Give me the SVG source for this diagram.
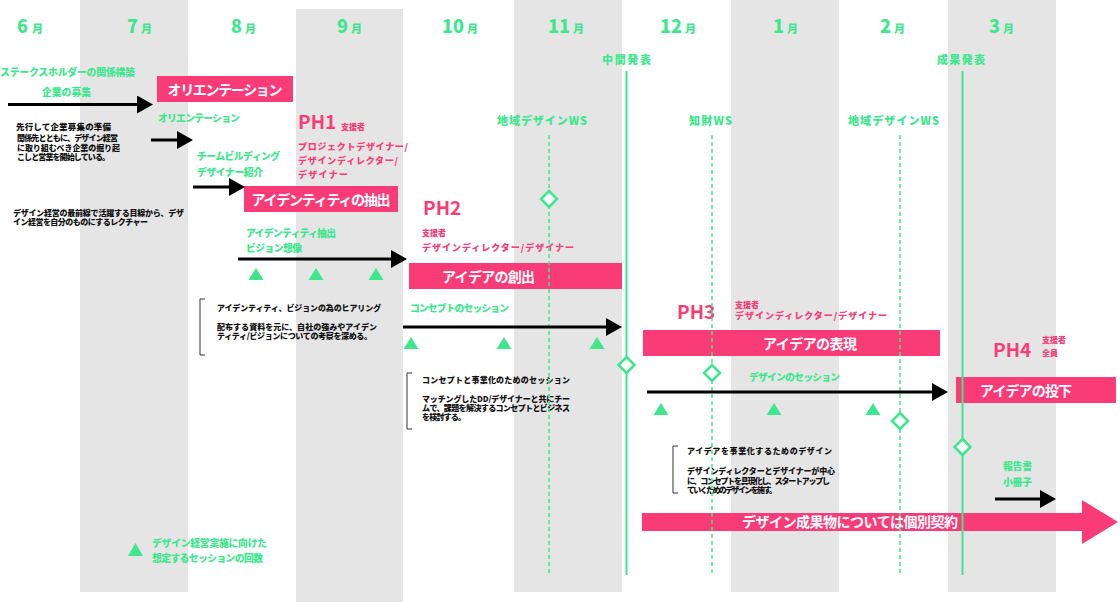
<svg xmlns="http://www.w3.org/2000/svg" width="1120" height="602" viewBox="0 0 1120 602">
<defs>
<style>
text{font-family:"Noto Sans CJK JP","Noto Sans",sans-serif;font-weight:700}
.col{fill:#E5E5E5}
.g{fill:#40E68E;font-size:9.8px;font-weight:900}
.gm{fill:#40E68E;font-size:11px;font-weight:900}
.mn{fill:#40E68E;font-size:18px;font-weight:900}
.mk{fill:#40E68E;font-size:11px;font-weight:900}
.b{fill:#111;font-size:8px;font-weight:900}
.bb{fill:#111;font-size:8.5px;font-weight:900}
.p{fill:#F93C78;font-size:9px;font-weight:900}
.ps{fill:#F93C78;font-size:8px;font-weight:900}
.ph{fill:#F93C78;font-size:19px}
.w{fill:#fff;font-size:14px}
.box{fill:#F93C78}
.tri{fill:#40E68E}
.dia{fill:#fff;stroke:#40E68E;stroke-width:2.5}
.ms{stroke:#40E68E;stroke-width:2;fill:none}
.dash{stroke:#40E68E;stroke-width:1.5;stroke-dasharray:4 3;fill:none}
.arr{stroke:#000;stroke-width:3;fill:none}
.brk{stroke:#333;stroke-width:1;fill:none}
</style>
<marker id="ah" markerUnits="userSpaceOnUse" markerWidth="16" markerHeight="18" refX="13" refY="9" orient="auto">
<path d="M0,0 L16,9 L0,18 Z" fill="#000"/>
</marker>
</defs>
<rect width="1120" height="602" fill="#fff"/>
<g id="columns">
<rect class="col" x="80" y="0" width="108" height="592"/>
<rect class="col" x="296" y="9" width="107" height="593"/>
<rect class="col" x="514" y="0" width="108" height="592"/>
<rect class="col" x="731" y="0" width="108" height="592"/>
<rect class="col" x="948" y="0" width="108" height="592"/>
</g>
<g id="months">
<text x="17" y="33"><tspan class="mn">6</tspan><tspan class="mk" dx="4">月</tspan></text>
<text x="127" y="33"><tspan class="mn">7</tspan><tspan class="mk" dx="3">月</tspan></text>
<text x="231" y="33"><tspan class="mn">8</tspan><tspan class="mk" dx="3">月</tspan></text>
<text x="337" y="33"><tspan class="mn">9</tspan><tspan class="mk" dx="3">月</tspan></text>
<text x="442" y="33"><tspan class="mn">10</tspan><tspan class="mk" dx="3">月</tspan></text>
<text x="548" y="33"><tspan class="mn">11</tspan><tspan class="mk" dx="3">月</tspan></text>
<text x="660" y="33"><tspan class="mn">12</tspan><tspan class="mk" dx="3">月</tspan></text>
<text x="773" y="33"><tspan class="mn">1</tspan><tspan class="mk" dx="3">月</tspan></text>
<text x="880" y="33"><tspan class="mn">2</tspan><tspan class="mk" dx="3">月</tspan></text>
<text x="989" y="33"><tspan class="mn">3</tspan><tspan class="mk" dx="3">月</tspan></text>
</g>
<g id="phase1">
<text class="g" x="0" y="75.5" textLength="135">ステークスホルダーの関係構築</text>
<text class="g" x="42" y="95.5" textLength="49">企業の募集</text>
<rect class="box" x="157" y="76" width="136" height="26"/>
<text class="w" x="225" y="94.5" text-anchor="middle" textLength="115">オリエンテーション</text>
<text class="g" x="158" y="121.5" textLength="82">オリエンテーション</text>
<text class="bb" x="16" y="130" textLength="95">先行して企業募集の準備</text>
<text class="b" x="17" y="141" textLength="101">関係先とともに、デザイン経営</text>
<text class="b" x="17" y="150.5" textLength="103">に取り組むべき企業の掘り起</text>
<text class="b" x="17" y="160" textLength="93">こしと営業を開始している。</text>
<text class="g" x="197" y="159.5" textLength="83">チームビルディング</text>
<text class="g" x="197" y="175.5" textLength="66">デザイナー紹介</text>
<text class="ph" x="298" y="129">PH1</text>
<text class="ps" x="341" y="130">支援者</text>
<text class="p" x="298" y="150" textLength="110">プロジェクトデザイナー/</text>
<text class="p" x="298" y="164" textLength="100">デザインディレクター/</text>
<text class="p" x="298" y="178" textLength="50">デザイナー</text>
<rect class="box" x="244" y="186" width="154" height="26"/>
<text class="w" x="321" y="204.5" text-anchor="middle" textLength="139">アイデンティティの抽出</text>
<text class="b" x="13" y="216" textLength="171">デザイン経営の最前線で活躍する目線から、デザ</text>
<text class="b" x="13" y="225" textLength="135">イン経営を自分のものにするレクチャー</text>
<text class="g" x="246" y="236.5" textLength="90">アイデンティティ抽出</text>
<text class="g" x="246" y="251.5" textLength="56">ビジョン想像</text>
<path class="brk" d="M205,299 H200 V355 H205"/>
<text class="b" x="217" y="311" textLength="164">アイデンティティ、ビジョンの為のヒアリング</text>
<text class="b" x="217" y="330" textLength="160">配布する資料を元に、自社の強みやアイデン</text>
<text class="b" x="217" y="339" textLength="155">ティティ/ビジョンについての考察を深める。</text>
</g>
<g id="phase2">
<text class="ph" x="423" y="215">PH2</text>
<text class="ps" x="422" y="236">支援者</text>
<text class="p" x="422" y="251" textLength="152">デザインディレクター/デザイナー</text>
<rect class="box" x="409" y="263" width="213" height="26"/>
<text class="w" x="442" y="281.5" textLength="93">アイデアの創出</text>
<text class="g" x="410" y="311.5" textLength="99">コンセプトのセッション</text>
<path class="brk" d="M412,373 H407 V429 H412"/>
<text class="b" x="422" y="383" textLength="148">コンセプトと事業化のためのセッション</text>
<text class="b" x="422" y="402" textLength="148">マッチングしたDD/デザイナーと共にチー</text>
<text class="b" x="422" y="411" textLength="148">ムで、課題を解決するコンセプトとビジネス</text>
<text class="b" x="422" y="420" textLength="44">を検討する。</text>
</g>
<g id="phase3">
<text class="ph" x="677" y="319">PH3</text>
<text class="ps" x="735" y="308">支援者</text>
<text class="p" x="735" y="319" textLength="152">デザインディレクター/デザイナー</text>
<rect class="box" x="643" y="330" width="297" height="26"/>
<text class="w" x="763" y="348.5" textLength="94">アイデアの表現</text>
<text class="g" x="749" y="380.5" textLength="91">デザインのセッション</text>
<path class="brk" d="M678,446 H673 V493 H678"/>
<text class="b" x="687" y="454" textLength="145">アイデアを事業化するためのデザイン</text>
<text class="b" x="687" y="474" textLength="148">デザインディレクターとデザイナーが中心</text>
<text class="b" x="687" y="484" textLength="143">に、コンセプトを具現化し、スタートアップし</text>
<text class="b" x="687" y="493" textLength="90">ていくためのデザインを施す。</text>
</g>
<g id="phase4">
<text class="ph" x="993" y="357">PH4</text>
<text class="ps" x="1042" y="343">支援者</text>
<text class="ps" x="1042" y="356">全員</text>
<rect class="box" x="956" y="377" width="160" height="26"/>
<text class="w" x="980" y="395.5" textLength="92">アイデアの投下</text>
<text class="g" x="1003" y="469.5" textLength="29">報告書</text>
<text class="g" x="1003" y="485.5" textLength="29">小冊子</text>
</g>
<g id="contract">
<polygon class="box" points="642,513 1082,513 1082,500 1118,522 1082,544 1082,531 642,531"/>
<text class="w" x="742" y="527" textLength="216">デザイン成果物については個別契約</text>
</g>
<g id="milestones">
<text class="gm" x="602" y="64" font-size="12" textLength="49">中間発表</text>
<line class="ms" x1="626.5" y1="71" x2="626.5" y2="575"/>
<text class="gm" x="937" y="64" textLength="48">成果発表</text>
<line class="ms" x1="962.5" y1="71" x2="962.5" y2="575"/>
<text class="gm" x="497" y="125" textLength="90">地域デザインWS</text>
<line class="dash" x1="549" y1="135" x2="549" y2="575"/>
<text class="gm" x="689" y="125" textLength="43">知財WS</text>
<line class="dash" x1="712" y1="135" x2="712" y2="575"/>
<text class="gm" x="848" y="125" textLength="91">地域デザインWS</text>
<line class="dash" x1="900" y1="135" x2="900" y2="575"/>
<polygon class="dia" points="549,191 557,199 549,207 541,199"/>
<polygon class="dia" points="626.5,357 634.5,365 626.5,373 618.5,365"/>
<polygon class="dia" points="712,365 720,373 712,381 704,373"/>
<polygon class="dia" points="900,413 908,421 900,429 892,421"/>
<polygon class="dia" points="962.5,439 970.5,447 962.5,455 954.5,447"/>
</g>
<g id="sessions">
<polygon class="tri" points="256,268 263.5,280 248.5,280"/>
<polygon class="tri" points="316,268 323.5,280 308.5,280"/>
<polygon class="tri" points="376,268 383.5,280 368.5,280"/>
<polygon class="tri" points="411,337 418.5,349 403.5,349"/>
<polygon class="tri" points="504,337 511.5,349 496.5,349"/>
<polygon class="tri" points="597,337 604.5,349 589.5,349"/>
<polygon class="tri" points="661,403 668.5,415 653.5,415"/>
<polygon class="tri" points="774,403 781.5,415 766.5,415"/>
<polygon class="tri" points="873,403 880.5,415 865.5,415"/>
</g>
<g id="legend">
<polygon class="tri" points="135.5,543 143,556 128,556"/>
<text class="g" x="152" y="546.5" textLength="115">デザイン経営実施に向けた</text>
<text class="g" x="152" y="561.5" textLength="111">想定するセッションの回数</text>
</g>
<g id="connectors">
<line class="arr" x1="8" y1="104.5" x2="150" y2="104.5" marker-end="url(#ah)"/>
<line class="arr" x1="151" y1="140" x2="190" y2="140" marker-end="url(#ah)"/>
<line class="arr" x1="193" y1="187" x2="242" y2="187" marker-end="url(#ah)"/>
<line class="arr" x1="238" y1="259" x2="404" y2="259" marker-end="url(#ah)"/>
<line class="arr" x1="403" y1="327" x2="619" y2="327" marker-end="url(#ah)"/>
<line class="arr" x1="647" y1="392" x2="945" y2="392" marker-end="url(#ah)"/>
<line class="arr" x1="995" y1="499" x2="1053" y2="499" marker-end="url(#ah)"/>
</g>
</svg>
